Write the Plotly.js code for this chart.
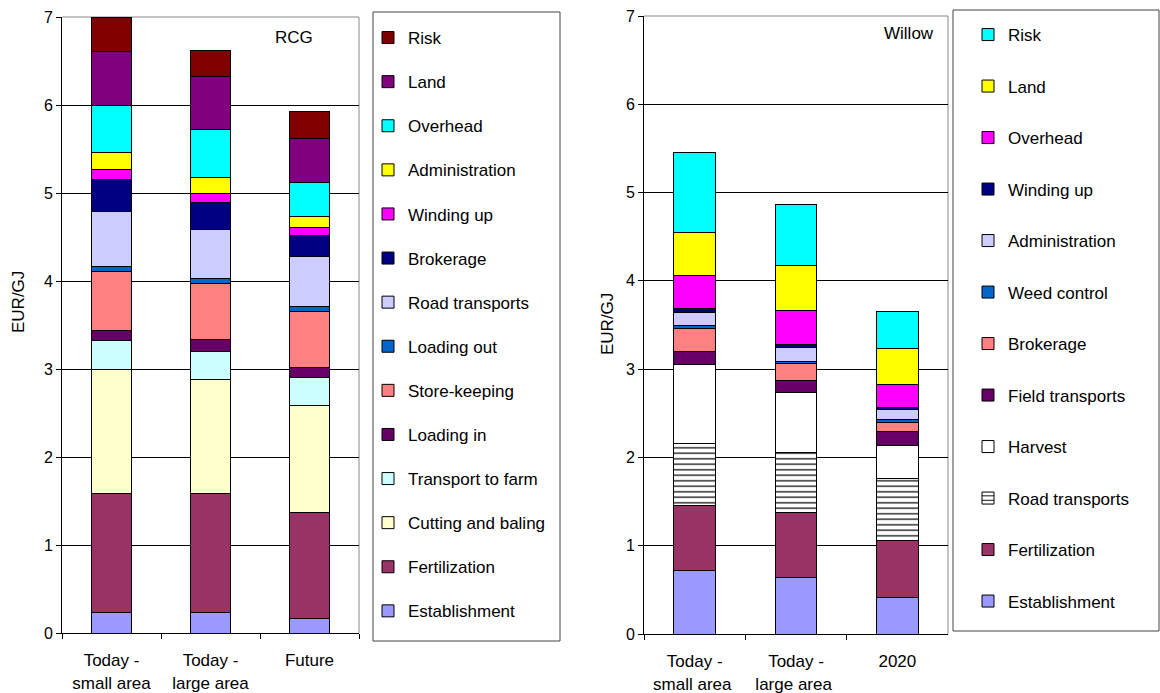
<!DOCTYPE html>
<html>
<head>
<meta charset="utf-8">
<script src="https://cdn.plot.ly/plotly-3.0.1.min.js"></script>
<style>
  html, body { margin: 0; padding: 0; background: #fff; }
  #chart { width: 1160px; height: 693px; }
</style>
</head>
<body>
<div id="chart"></div>
<script>
// Cost breakdown of reed canary grass (RCG) and willow, EUR/GJ

const rcgCategories = ['Today -<br>small area', 'Today -<br>large area', 'Future'];
const willowCategories = ['Today -<br>small area ', 'Today -<br>large area ', '2020'];

// RCG cost items, stacked bottom to top
const rcgEstablishment   = [0.23, 0.23, 0.17];
const rcgFertilization   = [1.35, 1.35, 1.20];
const rcgCuttingBaling   = [1.41, 1.30, 1.21];
const rcgTransportFarm   = [0.33, 0.32, 0.32];
const rcgLoadingIn       = [0.12, 0.13, 0.12];
const rcgStoreKeeping    = [0.67, 0.64, 0.63];
const rcgLoadingOut      = [0.06, 0.06, 0.06];
const rcgRoadTransports  = [0.62, 0.56, 0.57];
const rcgBrokerage       = [0.36, 0.30, 0.24];
const rcgWindingUp       = [0.12, 0.11, 0.09];
const rcgAdministration  = [0.19, 0.18, 0.12];
const rcgOverhead        = [0.54, 0.54, 0.39];
const rcgLand            = [0.61, 0.60, 0.50];
const rcgRisk            = [0.39, 0.30, 0.31];

// Willow cost items, stacked bottom to top
const wilEstablishment   = [0.72, 0.64, 0.41];
const wilFertilization   = [0.74, 0.74, 0.65];
const wilRoadTransports  = [0.70, 0.68, 0.70];
const wilHarvest         = [0.89, 0.68, 0.38];
const wilFieldTransports = [0.15, 0.13, 0.15];
const wilBrokerage       = [0.26, 0.19, 0.11];
const wilWeedControl     = [0.04, 0.03, 0.03];
const wilAdministration  = [0.14, 0.15, 0.11];
const wilWindingUp       = [0.05, 0.04, 0.03];
const wilOverhead        = [0.37, 0.38, 0.26];
const wilLand            = [0.49, 0.51, 0.40];
const wilRisk            = [0.90, 0.69, 0.42];

const FONT = 'Liberation Sans, Arial, sans-serif';

const rcgSeries = [
  ['Establishment', rcgEstablishment, '#9999FF'],
  ['Fertilization', rcgFertilization, '#993366'],
  ['Cutting and baling', rcgCuttingBaling, '#FFFFCC'],
  ['Transport to farm', rcgTransportFarm, '#CCFFFF'],
  ['Loading in', rcgLoadingIn, '#660066'],
  ['Store-keeping', rcgStoreKeeping, '#FF8080'],
  ['Loading out', rcgLoadingOut, '#0066CC'],
  ['Road transports', rcgRoadTransports, '#CCCCFF'],
  ['Brokerage', rcgBrokerage, '#000080'],
  ['Winding up', rcgWindingUp, '#FF00FF'],
  ['Administration', rcgAdministration, '#FFFF00'],
  ['Overhead', rcgOverhead, '#00FFFF'],
  ['Land', rcgLand, '#800080'],
  ['Risk', rcgRisk, '#800000']
];

const willowSeries = [
  ['Establishment', wilEstablishment, '#9999FF'],
  ['Fertilization', wilFertilization, '#993366'],
  ['Road transports', wilRoadTransports, 'stripes'],
  ['Harvest', wilHarvest, '#FFFFFF'],
  ['Field transports', wilFieldTransports, '#660066'],
  ['Brokerage', wilBrokerage, '#FF8080'],
  ['Weed control', wilWeedControl, '#0066CC'],
  ['Administration', wilAdministration, '#CCCCFF'],
  ['Winding up', wilWindingUp, '#000080'],
  ['Overhead', wilOverhead, '#FF00FF'],
  ['Land', wilLand, '#FFFF00'],
  ['Risk', wilRisk, '#00FFFF']
];

const traces = [];
rcgSeries.forEach(([name, values, color], i) => {
  traces.push({
    type: 'bar', name: name, x: rcgCategories, y: values,
    xaxis: 'x', yaxis: 'y', width: 0.41,
    legend: 'legend', legendgroup: 'rcg' + i, legendrank: 100 + rcgSeries.length - i,
    marker: { color: color, line: { color: '#000', width: 1 } },
    hovertemplate: name + ': %{y:.2f}<extra></extra>'
  });
});
willowSeries.forEach(([name, values, color], i) => {
  const marker = { line: { color: '#000', width: 1 } };
  if (color === 'stripes') {
    marker.color = '#FFFFFF';
    marker.pattern = { shape: '-', fgcolor: '#000', bgcolor: '#FFFFFF', size: 5.5, solidity: 0.22, fillmode: 'replace' };
  } else {
    marker.color = color;
  }
  traces.push({
    type: 'bar', name: name, x: willowCategories, y: values,
    xaxis: 'x2', yaxis: 'y2', width: 0.41,
    legend: 'legend2', legendgroup: 'wil' + i, legendrank: 100 + willowSeries.length - i,
    marker: marker,
    hovertemplate: name + ': %{y:.2f}<extra></extra>'
  });
});

const yBase = {
  range: [0, 7], dtick: 1, tick0: 0,
  showgrid: true, gridcolor: '#000', gridwidth: 1,
  showline: true, linecolor: '#000', linewidth: 1,
  ticks: 'outside', ticklen: 5, tickcolor: '#000',
  tickfont: { family: FONT, size: 16, color: '#000' },
  zeroline: false, fixedrange: true
};
const xBase = {
  type: 'category',
  showline: true, linecolor: '#000', linewidth: 1,
  ticks: 'outside', ticklen: 5, tickcolor: '#000', tickson: 'boundaries',
  ticklabelstandoff: 12,
  tickfont: { family: FONT, size: 17, color: '#000' },
  showgrid: false, fixedrange: true
};

const legendBase = {
  bgcolor: 'rgba(0,0,0,0)', borderwidth: 0,
  font: { family: FONT, size: 17, color: '#000' },
  traceorder: 'grouped', orientation: 'v',
  xanchor: 'left', yanchor: 'top', itemwidth: 30
};

// plot-area border (top and right edges drawn in grey)
function frame(xr, yr) {
  return [
    { type: 'line', xref: xr + ' domain', yref: yr + ' domain', x0: 0, x1: 1, y0: 1, y1: 1,
      line: { color: '#888', width: 1 }, layer: 'below' },
    { type: 'line', xref: xr + ' domain', yref: yr + ' domain', x0: 1, x1: 1, y0: 0, y1: 1,
      line: { color: '#888', width: 1 }, layer: 'below' }
  ];
}

function label(text, x, y, size, angle) {
  return {
    text: text, xref: 'paper', yref: 'paper', x: x / W, y: 1 - y / H,
    xanchor: 'center', yanchor: 'middle', textangle: angle || 0,
    showarrow: false, font: { family: FONT, size: size, color: '#000' }
  };
}

const W = 1160, H = 693;
const layout = {
  width: W, height: H,
  margin: { l: 0, r: 0, t: 0, b: 0 },
  paper_bgcolor: '#fff', plot_bgcolor: '#fff',
  barmode: 'stack',
  showlegend: true,
  font: { family: FONT, color: '#000' },
  xaxis: Object.assign({}, xBase, { domain: [62 / W, 359 / W], anchor: 'y' }),
  yaxis: Object.assign({}, yBase, { domain: [1 - 633 / H, 1 - 17 / H], anchor: 'x' }),
  xaxis2: Object.assign({}, xBase, { domain: [644 / W, 948 / W], anchor: 'y2' }),
  yaxis2: Object.assign({}, yBase, { domain: [1 - 634 / H, 1 - 16 / H], anchor: 'x2' }),
  legend: Object.assign({}, legendBase, { x: 368 / W, y: 1 - 20 / H, tracegroupgap: 19 }),
  legend2: Object.assign({}, legendBase, { x: 968 / W, y: 1 - 17 / H, tracegroupgap: 26.4 }),
  shapes: [
    ...frame('x', 'y'),
    ...frame('x2', 'y2'),
    { type: 'rect', xref: 'paper', yref: 'paper', x0: 373 / W, x1: 560 / W, y0: 1 - 641 / H, y1: 1 - 12 / H,
      line: { color: '#444', width: 1 }, fillcolor: 'rgba(0,0,0,0)' },
    { type: 'rect', xref: 'paper', yref: 'paper', x0: 953 / W, x1: 1159 / W, y0: 1 - 631 / H, y1: 1 - 10 / H,
      line: { color: '#444', width: 1 }, fillcolor: 'rgba(0,0,0,0)' }
  ],
  annotations: [
    label('RCG', 294, 38, 17),
    label('Willow', 909, 33, 17),
    label('EUR/GJ', 18, 302, 17, -90),
    label('EUR/GJ', 608, 324, 17, -90)
  ]
};

Plotly.newPlot('chart', traces, layout, { displayModeBar: false });
</script>
</body>
</html>
